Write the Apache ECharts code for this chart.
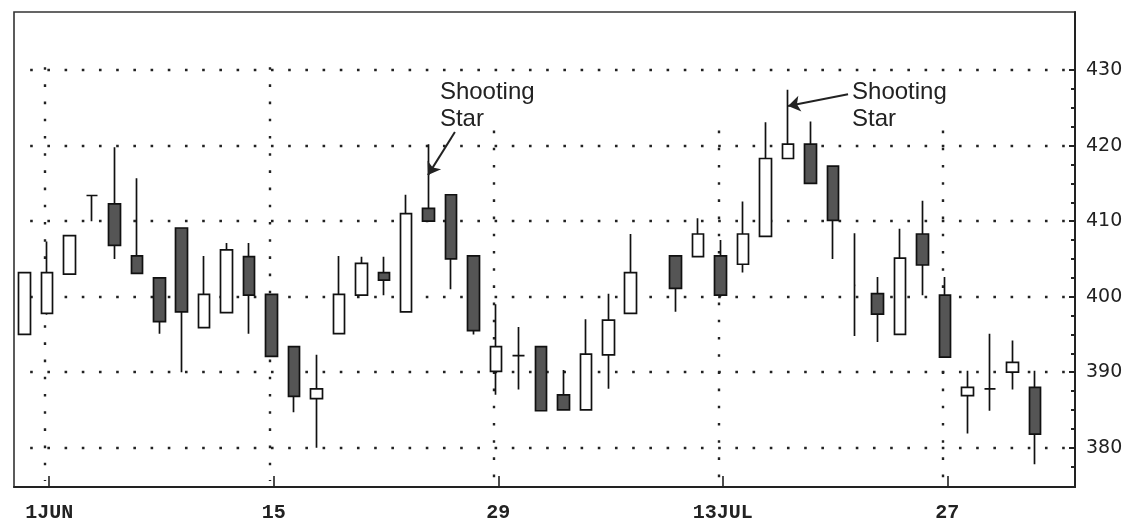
<!DOCTYPE html>
<html><head><meta charset="utf-8">
<script src="https://cdn.jsdelivr.net/npm/echarts@6/dist/echarts.min.js"></script>
<style>html,body{margin:0;padding:0;background:#fff}#c{width:1140px;height:527px}</style>
</head><body><div id="c"></div>
<script>
// ---- data (trading-day slots, May 29 .. Jul 31) ----
const dates = ['May 29','Jun 1','Jun 2','Jun 3','Jun 4','Jun 5','Jun 8','Jun 9','Jun 10','Jun 11','Jun 12',
  'Jun 15','Jun 16','Jun 17','Jun 18','Jun 19','Jun 22','Jun 23','Jun 24','Jun 25','Jun 26',
  'Jun 29','Jun 30','Jul 1','Jul 2','Jul 3','Jul 6','Jul 7','Jul 8','Jul 9','Jul 10',
  'Jul 13','Jul 14','Jul 15','Jul 16','Jul 17','Jul 20','Jul 21','Jul 22','Jul 23','Jul 24',
  'Jul 27','Jul 28','Jul 29','Jul 30','Jul 31'];
const opens  = [395.0,397.8,403.0,413.4,412.3,405.4,402.5,409.1,395.9,397.9,405.3,
  400.3,393.4,386.5,395.1,400.2,403.2,398.0,411.7,413.5,405.4,
  390.1,392.2,393.4,387.0,385.0,392.3,397.8,null,405.4,405.3,
  405.4,404.3,408.0,418.3,420.2,417.3,401.5,400.4,395.0,408.3,
  400.2,386.9,387.8,390.0,388.0];
const closes = [403.2,403.2,408.1,413.4,406.8,403.1,396.7,398.0,400.3,406.2,400.2,
  392.1,386.8,387.8,400.3,404.4,402.2,411.0,410.0,405.0,395.5,
  393.4,392.2,384.9,385.0,392.4,396.9,403.2,null,401.1,408.3,
  400.2,408.3,418.3,420.2,415.0,410.1,401.5,397.7,405.1,404.2,
  392.0,388.0,387.8,391.3,381.8];
const lows   = [395.0,397.6,403.0,410.0,405.0,403.1,395.1,390.0,395.9,397.9,395.1,
  392.1,384.7,380.0,395.1,400.2,400.2,398.0,410.0,401.0,395.0,
  387.0,387.7,384.9,385.0,385.0,387.8,397.8,null,398.0,405.3,
  400.0,403.2,408.0,418.3,415.0,405.0,394.8,394.0,395.0,400.2,
  392.0,381.9,384.9,387.7,377.8];
const highs  = [403.2,407.3,408.1,413.4,419.8,415.7,402.5,409.1,405.4,407.1,407.1,
  400.3,393.4,392.3,405.4,405.3,405.3,413.5,420.2,413.5,405.4,
  399.0,396.0,393.4,390.3,397.0,400.4,408.3,null,405.4,410.4,
  407.5,412.6,423.1,427.4,423.2,417.3,408.4,402.6,409.0,412.7,
  402.6,390.2,395.1,394.2,390.2];
const noBodyDates = ['Jul 21'];
const tickDates  = ['Jun 1','Jun 15','Jun 29','Jul 13','Jul 27'];
const tickLabels = ['1JUN','15','29','13JUL','27'];
const priceTicks = [380,390,400,410,420,430];
const annotationText = 'Shooting\nStar';

// ---- layout constants ----
const X_MIN = -0.47, X_MAX = 46.79, Y_MIN = 374.8, Y_MAX = 437.7;
const vGridTop = [430.4, 430.4, 422, 422, 422];

const mainData = [], thinData = [];
dates.forEach((d, i) => {
  if (opens[i] == null) return;
  const item = [i, opens[i], closes[i], lows[i], highs[i]];
  (noBodyDates.includes(d) ? thinData : mainData).push(item);
});
const tickIdx = tickDates.map(d => dates.indexOf(d));
const minorTicks = [];
for (let v = 377.5; v <= 428; v += 2.5) if (v % 10 !== 0) minorTicks.push(v);

const dotted = {color: '#222', width: 2.4, type: [2.6, 14.6]};
const gridLines = [];
priceTicks.forEach(p => gridLines.push([{coord: [0.25, p]}, {coord: [X_MAX, p]}]));
tickIdx.forEach((ix, k) => gridLines.push([{coord: [ix - 0.1, vGridTop[k]]}, {coord: [ix - 0.1, 375.6]}]));

const arrows = [
  [{coord: [19.17, 421.8]}, {coord: [17.97, 416.1]}],
  [{coord: [36.68, 426.8]}, {coord: [34.01, 425.25]}]
];
const textAnchors = [[18.5, 428.8], [36.86, 428.9]];

const candleStyle = {color: '#fff', color0: '#555', borderColor: '#111', borderColor0: '#111', borderWidth: 1.7};

const chart = echarts.init(document.getElementById('c'), null, {renderer: 'canvas'});
chart.setOption({
  backgroundColor: '#fff',
  animation: false,
  grid: {left: 14, right: 65, top: 12, bottom: 40, show: true, borderColor: '#333', borderWidth: 1.6, backgroundColor: '#fff'},
  xAxis: {
    type: 'value', min: X_MIN, max: X_MAX, position: 'bottom',
    axisLine: {show: true, onZero: false, lineStyle: {color: '#222', width: 2}},
    axisTick: {show: true, inside: true, length: 11, customValues: tickIdx.map(i => i + 0.1), lineStyle: {color: '#222', width: 1.6}},
    axisLabel: {show: true, customValues: tickIdx.map(i => i + 0.1), margin: 16,
      formatter: v => tickLabels[tickIdx.indexOf(Math.round(v))] || '',
      fontFamily: 'Liberation Mono', fontWeight: 'bold', fontSize: 20, color: '#222'},
    splitLine: {show: false}
  },
  yAxis: [{
    type: 'value', min: Y_MIN, max: Y_MAX, position: 'right',
    axisLine: {show: true, onZero: false, lineStyle: {color: '#222', width: 2}},
    axisTick: {show: true, inside: true, length: 6, customValues: priceTicks, lineStyle: {color: '#222', width: 2}},
    axisLabel: {show: true, customValues: priceTicks, margin: 11, fontFamily: 'DejaVu Sans', fontSize: 19, color: '#222'},
    splitLine: {show: false}
  }, {
    type: 'value', min: Y_MIN, max: Y_MAX, position: 'right',
    axisLine: {show: false, onZero: false},
    axisTick: {show: true, inside: true, length: 4, customValues: minorTicks, lineStyle: {color: '#222', width: 2}},
    axisLabel: {show: false},
    splitLine: {show: false}
  }],
  series: [{
    type: 'candlestick', name: 'price', data: mainData, barWidth: 12, itemStyle: candleStyle,
    markLine: {silent: true, z: 1, symbol: 'none', label: {show: false}, lineStyle: dotted, data: gridLines}
  }, {
    type: 'candlestick', name: 'price-thin', data: thinData, barWidth: 2, itemStyle: candleStyle,
    markLine: {silent: true, symbol: ['none', 'arrow'], symbolSize: 12, label: {show: false},
      lineStyle: {color: '#222', width: 2, type: 'solid'}, data: arrows}
  }]
});

chart.setOption({
  graphic: textAnchors.map(a => {
    const p = chart.convertToPixel({xAxisIndex: 0, yAxisIndex: 0}, a);
    return {type: 'text', x: p[0], y: p[1], z: 100,
      style: {text: annotationText, fontFamily: 'Liberation Sans', fontSize: 24, lineHeight: 27, fill: '#222', verticalAlign: 'top'}};
  })
});
</script></body></html>
